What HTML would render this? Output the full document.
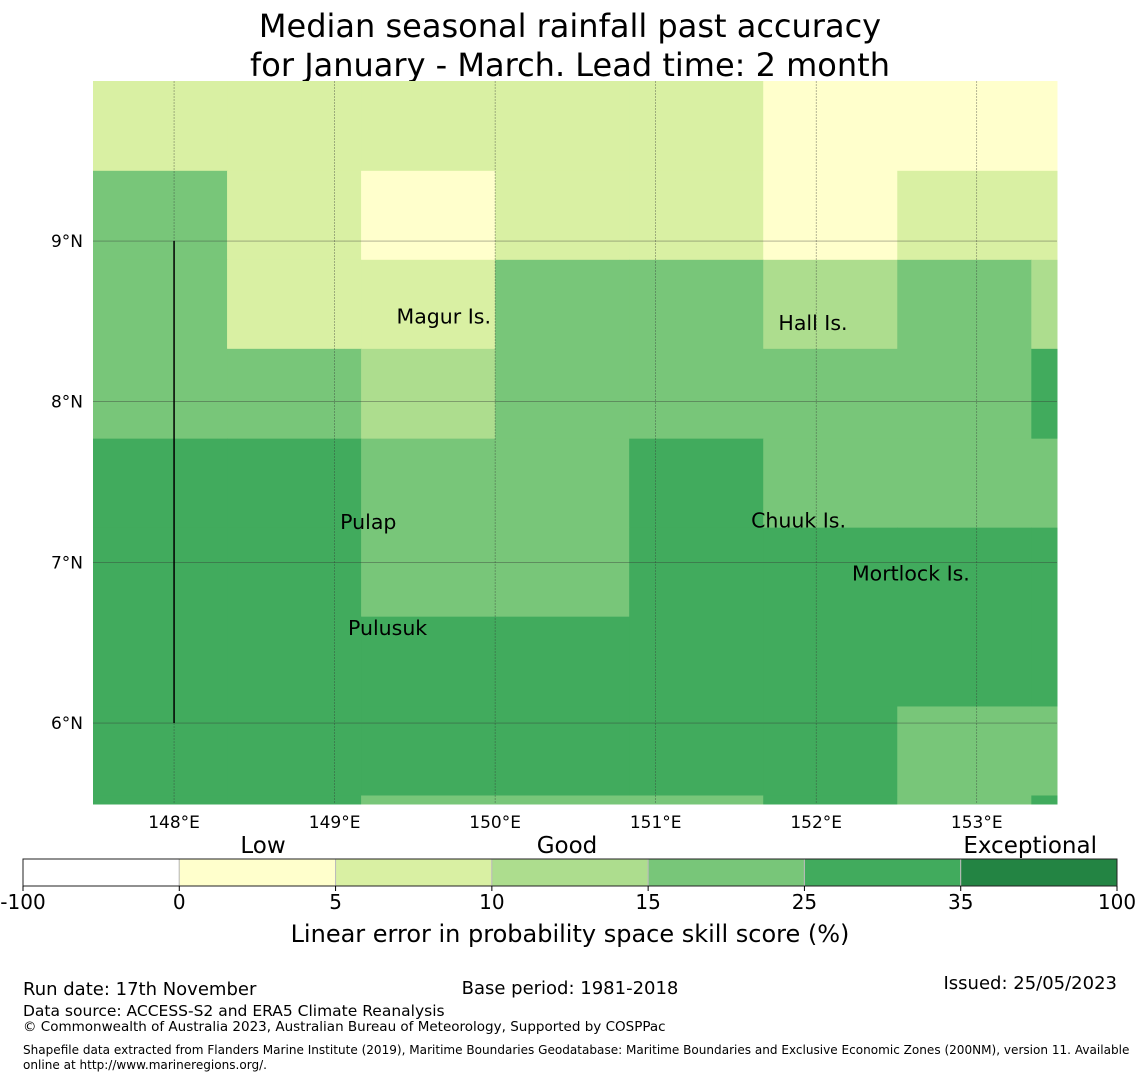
<!DOCTYPE html>
<html><head><meta charset="utf-8">
<style>
body{margin:0;background:#fff;font-family:"DejaVu Sans","Liberation Sans",sans-serif;}
svg{display:block}
text{font-family:"DejaVu Sans","Liberation Sans",sans-serif;}
</style></head><body>
<svg id="chart" width="1140" height="1080" viewBox="0 0 1140 1080" xmlns="http://www.w3.org/2000/svg">
<text x="570" y="37" font-size="32" text-anchor="middle">Median seasonal rainfall past accuracy</text>
<text x="570" y="76" font-size="32" text-anchor="middle">for January - March. Lead time: 2 month</text>
<g id="map"></g>
<g id="cbar"></g>
<text x="570" y="942" font-size="24" text-anchor="middle">Linear error in probability space skill score (%)</text>
<text x="23" y="995" font-size="18">Run date: 17th November</text>
<text x="570" y="994" font-size="18" text-anchor="middle">Base period: 1981-2018</text>
<text x="1117" y="989" font-size="18" text-anchor="end">Issued: 25/05/2023</text>
<text x="23" y="1016" font-size="15.5">Data source: ACCESS-S2 and ERA5 Climate Reanalysis</text>
<text x="23" y="1031" font-size="13.5">© Commonwealth of Australia 2023, Australian Bureau of Meteorology, Supported by COSPPac</text>
<text x="23" y="1054" font-size="12.05">Shapefile data extracted from Flanders Marine Institute (2019), Maritime Boundaries Geodatabase: Maritime Boundaries and Exclusive Economic Zones (200NM), version 11. Available</text>
<text x="23" y="1069" font-size="12.05">online at http://www.marineregions.org/.</text>
</svg>
<script>
// Data
const lonEdges = [147.495,148.33,149.165,150.0,150.835,151.67,152.505,153.34,153.5];
const latEdges = [9.996,9.437,8.883,8.329,7.77,7.216,6.662,6.103,5.549,5.496];
const skill = [
 [7,7,7,7,7,3,3,3],
 [20,7,3,7,7,3,7,7],
 [20,7,7,20,20,12,20,12],
 [20,20,12,20,20,20,20,30],
 [30,30,20,20,30,20,20,20],
 [30,30,20,20,30,30,30,30],
 [30,30,30,30,30,30,30,30],
 [30,30,30,30,30,30,20,20],
 [30,30,20,20,20,30,20,30]
];
const binEdges = [-100,0,5,10,15,25,35,100];
const binColors = ["#ffffff","#ffffcc","#d9f0a3","#addd8e","#78c679","#41ab5d","#238443"];
const lonTicks = [148,149,150,151,152,153];
const latTicks = [9,8,7,6];
const places = [["Magur Is.",149.68,8.53],["Hall Is.",151.98,8.49],["Pulap",149.21,7.25],["Chuuk Is.",151.89,7.26],["Mortlock Is.",152.59,6.93],["Pulusuk",149.33,6.59]];
const catLabels = [["Low",263,"middle"],["Good",567,"middle"],["Exceptional",1097,"end"]];

const X0=93,X1=1057,Y0=81,Y1=804;
const xs = lon => X0+(lon-147.495)*(X1-X0)/(153.5-147.495);
const ys = lat => Y0+(9.996-lat)*(Y1-Y0)/(9.996-5.496);
const NS="http://www.w3.org/2000/svg";
function mk(tag,attrs,parent){const e=document.createElementNS(NS,tag);for(const k in attrs)e.setAttribute(k,attrs[k]);parent.appendChild(e);return e;}
function colorFor(v){for(let i=0;i<binColors.length;i++){if(v<binEdges[i+1])return binColors[i];}return binColors[binColors.length-1];}
const map=document.getElementById('map');
for(let r=0;r<skill.length;r++)for(let c=0;c<skill[r].length;c++){
  const x=xs(lonEdges[c]),x2=xs(lonEdges[c+1]),y=ys(latEdges[r]),y2=ys(latEdges[r+1]);
  const el=mk('rect',{x:x,y:y,width:x2-x+0.5,height:y2-y+0.5,fill:colorFor(skill[r][c])},map);
  
  
}
lonTicks.forEach(l=>{
  const x=xs(l);
  const g=mk('line',{x1:x,x2:x,y1:Y0,y2:Y1,stroke:'#333','stroke-width':0.6,'stroke-dasharray':'2,1','stroke-opacity':0.6},map);
  
  
  const t=mk('text',{x:x,y:828,'font-size':17,'text-anchor':'middle'},map);t.textContent=l+'°E';
  
  
});
latTicks.forEach(l=>{
  const y=ys(l);
  const g=mk('line',{x1:X0,x2:X1,y1:y,y2:y,stroke:'#333','stroke-width':0.6,'stroke-opacity':0.6},map);
  
  
  const t=mk('text',{x:83,y:y+6,'font-size':17,'text-anchor':'end'},map);t.textContent=l+'°N';
  
  
});
const bl=mk('line',{x1:xs(148),x2:xs(148),y1:ys(9),y2:ys(6),stroke:'#000','stroke-width':1.5},map);


places.forEach(p=>{
  const t=mk('text',{x:xs(p[1]),y:ys(p[2])+7,'font-size':20.5,'text-anchor':'middle'},map);t.textContent=p[0];
  
  
});
// colorbar
const cb=document.getElementById('cbar');
const CX0=23,CX1=1117,CY=859,CH=27,n=binColors.length,w=(CX1-CX0)/n;
binColors.forEach((c,i)=>{
  const r=mk('rect',{x:CX0+i*w,y:CY,width:w,height:CH,fill:c,stroke:'#bbb','stroke-width':1},cb);
  
  
});
mk('rect',{x:CX0,y:CY,width:CX1-CX0,height:CH,fill:'none',stroke:'#222','stroke-width':1},cb);
binEdges.forEach((b,i)=>{
  const x=CX0+i*w;
  mk('line',{x1:x,x2:x,y1:CY+CH,y2:CY+CH+5,stroke:'#000'},cb);
  const t=mk('text',{x:x,y:909,'font-size':20,'text-anchor':'middle'},cb);t.textContent=b;
  
  
});
catLabels.forEach(c=>{
  const t=mk('text',{x:c[1],y:853,'font-size':23,'text-anchor':c[2]},cb);t.textContent=c[0];
  
  
});
</script>
</body></html>
